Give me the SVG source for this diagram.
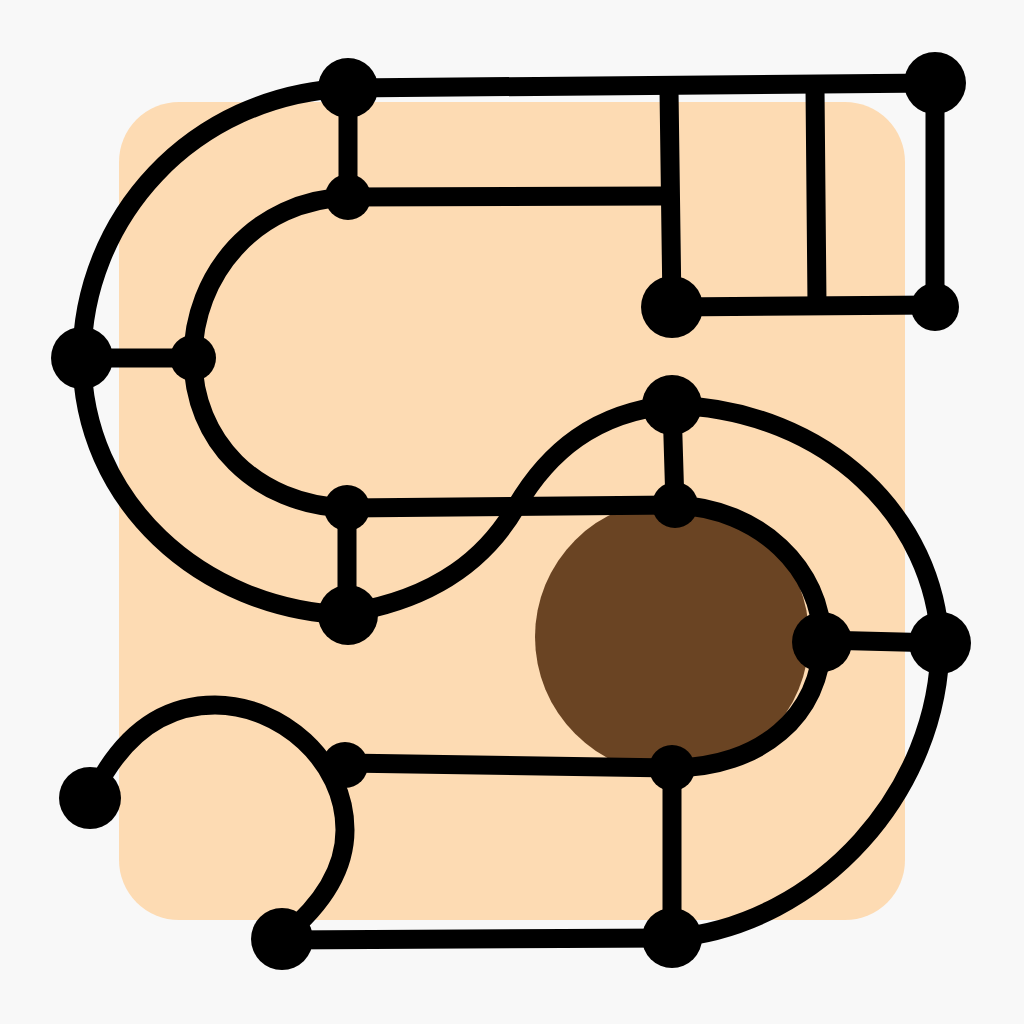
<svg xmlns="http://www.w3.org/2000/svg" width="1024" height="1024" viewBox="0 0 1024 1024">
<style>
.ln{fill:none;stroke:#000;stroke-width:19;stroke-linecap:round;stroke-linejoin:round}
.dot{fill:#000}
</style>
<rect width="1024" height="1024" fill="#f8f8f8"/>
<rect x="119" y="102" width="786" height="818" rx="60" fill="#fddbb3"/>
<circle cx="672" cy="637" r="137" fill="#6a4423"/>
<g id="connectors" class="ln">
<path d="M348,88 L935,83"/>
<path d="M348,88 L348,197"/>
<path d="M348,197 L663,196"/>
<path d="M669,90 L672,307"/>
<path d="M815,88 L817,305"/>
<path d="M935,83 L935,307"/>
<path d="M672,307 L935,305"/>
<path d="M348,88 C190,95 82,220 82,358 C82,500 200,610 348,615"/>
<path d="M348,197 C255,200 193,275 193,358 C193,440 255,505 347,508"/>
<path d="M82,358 L193,358"/>
<path d="M347,508 L347,615"/>
<path d="M347,508 L675,505"/>
<path d="M672,405 L675,505"/>
<path d="M348,613 C440,598 488,555 516,507 C548,452 595,412 672,405"/>
<path d="M672,405 C830,410 935,520 940,643 C940,790 820,925 672,938"/>
<path d="M675,505 C760,508 822,570 822,640 C822,715 760,768 672,768"/>
<path d="M822,640 L940,643"/>
<path d="M345,763 L672,768"/>
<path d="M672,768 L672,938"/>
<path d="M280,940 L672,938"/>
<path d="M95,790 C130,722 175,705 215,705 C280,705 345,760 345,830 C345,870 322,905 283,937"/>
</g>
<g id="n-A"><circle class="dot" cx="348" cy="88" r="30"/></g>
<g id="n-B"><circle class="dot" cx="935" cy="83" r="31"/></g>
<g id="n-C"><circle class="dot" cx="348" cy="197" r="23"/></g>
<g id="n-D"><circle class="dot" cx="672" cy="307" r="31"/></g>
<g id="n-E"><circle class="dot" cx="935" cy="307" r="24"/></g>
<g id="n-F"><circle class="dot" cx="82" cy="358" r="31"/></g>
<g id="n-G"><circle class="dot" cx="193" cy="358" r="23"/></g>
<g id="n-H"><circle class="dot" cx="672" cy="405" r="30"/></g>
<g id="n-I"><circle class="dot" cx="347" cy="508" r="23"/></g>
<g id="n-J"><circle class="dot" cx="675" cy="505" r="23"/></g>
<g id="n-K"><circle class="dot" cx="348" cy="615" r="30"/></g>
<g id="n-L"><circle class="dot" cx="822" cy="642" r="30"/></g>
<g id="n-M"><circle class="dot" cx="940" cy="643" r="31"/></g>
<g id="n-N"><circle class="dot" cx="345" cy="765" r="23"/></g>
<g id="n-O"><circle class="dot" cx="672" cy="768" r="23"/></g>
<g id="n-P"><circle class="dot" cx="90" cy="798" r="31"/></g>
<g id="n-Q"><circle class="dot" cx="282" cy="939" r="31"/></g>
<g id="n-R"><circle class="dot" cx="672" cy="938" r="30"/></g>
</svg>
